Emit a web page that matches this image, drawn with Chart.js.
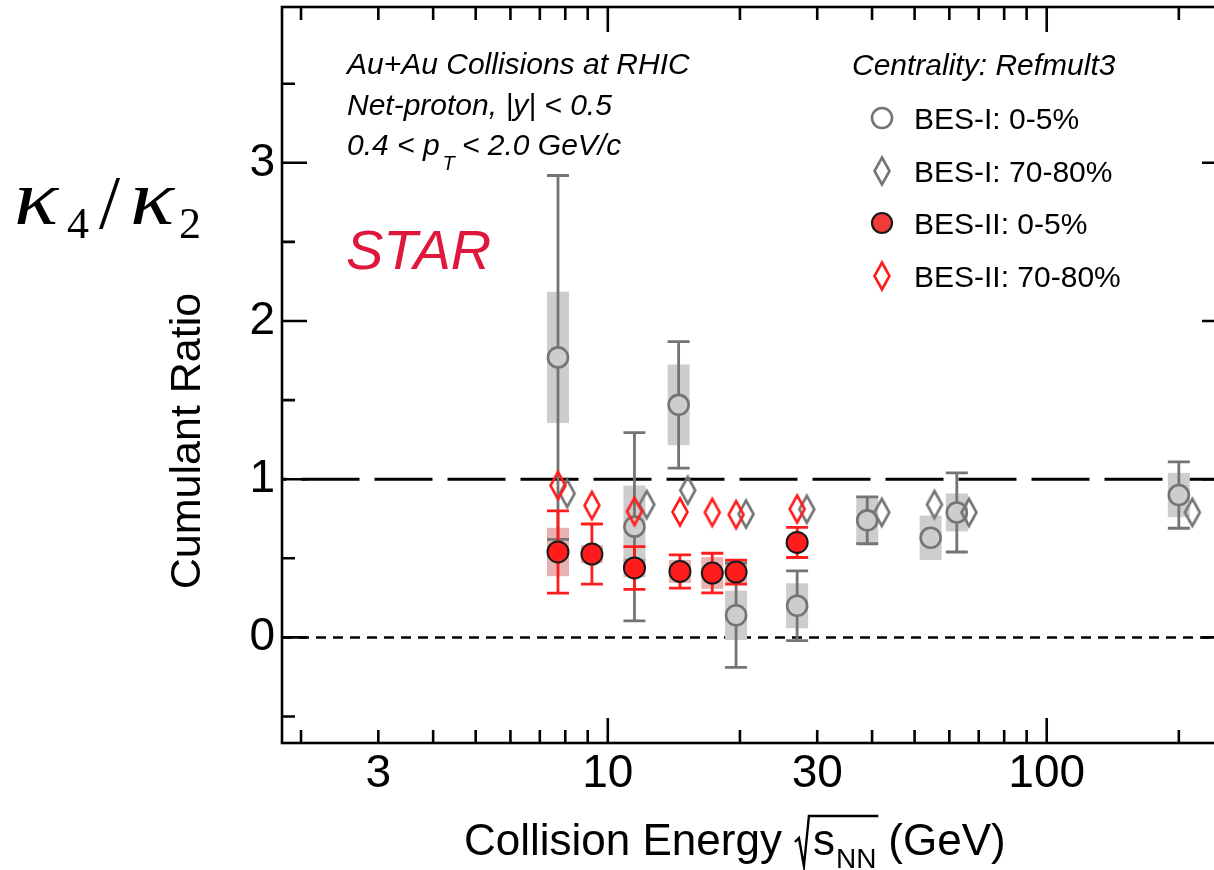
<!DOCTYPE html>
<html>
<head>
<meta charset="utf-8">
<script src="https://cdn.jsdelivr.net/npm/chart.js@4.4.0/dist/chart.umd.min.js"></script>
<style>
  html, body { margin: 0; padding: 0; background: #fff; overflow: hidden; }
  #wrap { width: 1214px; height: 870px; overflow: hidden; position: relative; }
  canvas { display: block; }
</style>
</head>
<body>
<div id="wrap"><canvas id="cumulantChart" width="1240" height="870"></canvas></div>
<script>
// BES-I, 0-5% (open gray circles)
const bes1Energy = [7.7, 11.5, 14.5, 19.6, 27, 39, 54.4, 62.4, 200];
const bes1Central = [1.77, 0.70, 1.47, 0.14, 0.20, 0.74, 0.63, 0.79, 0.90];
const bes1CentralStat = [1.15, 0.595, 0.40, 0.33, 0.22, 0.148, 0.04, 0.25, 0.21];
const bes1CentralSys = [0.415, 0.26, 0.255, 0.156, 0.142, 0.15, 0.14, 0.12, 0.14];

// BES-I, 70-80% (gray diamonds), drawn slightly to the right of the nominal energy
const bes1PeriphEnergy = [8.08, 12.27, 15.21, 20.65, 28.4, 42.1, 55.5, 66.5, 214.7];
const bes1Periph = [0.91, 0.84, 0.93, 0.78, 0.81, 0.79, 0.84, 0.79, 0.79];

// BES-II, 0-5% (filled red circles)
const bes2Energy = [7.7, 9.2, 11.5, 14.6, 17.3, 19.6, 27];
const bes2Central = [0.54, 0.527, 0.439, 0.417, 0.407, 0.413, 0.60];
const bes2CentralStat = [0.26, 0.19, 0.135, 0.105, 0.125, 0.076, 0.095];
const bes2CentralSys = [0.153, 0.057, 0.058, 0.073, 0.10, 0.07, 0.03];

// BES-II, 70-80% (red diamonds)
const bes2Periph = [0.96, 0.834, 0.796, 0.793, 0.79, 0.776, 0.812];

// axis ticks
const xTickLabels = [3, 10, 30, 100];
const xMajorTicks = [10, 100];
const xMinorTicks = [2, 3, 4, 5, 6, 7, 8, 9, 20, 30, 40, 50, 60, 70, 80, 90, 200];
const yTickLabels = [0, 1, 2, 3];
const yMinorTicks = [-0.5, 0.5, 1.5, 2.5, 3.5];

const legendLabels = ['BES-I: 0-5%', 'BES-I: 70-80%', 'BES-II: 0-5%', 'BES-II: 70-80%'];

const FONT = "'Liberation Sans', Arial, Helvetica, sans-serif";
const SERIF = "'Liberation Serif', 'DejaVu Serif', serif";
const GRAY = '#747474';
const GRAY_BOX = '#cdcdcd';
const RED = '#ff1c1c';

function diamondImage(color) {
    const c = document.createElement('canvas');
    c.width = 22;
    c.height = 34;
    const g = c.getContext('2d');
    g.strokeStyle = color;
    g.lineWidth = 2.6;
    g.beginPath();
    g.moveTo(11, 3.5);
    g.lineTo(18.5, 17);
    g.lineTo(11, 30.5);
    g.lineTo(3.5, 17);
    g.closePath();
    g.stroke();
    return c;
}

const grayDiamond = diamondImage(GRAY);
const redDiamond = diamondImage(RED);

function drawHLine(ctx, area, yPix, dash, offset, width) {
    ctx.save();
    ctx.strokeStyle = '#000';
    ctx.lineWidth = width;
    ctx.setLineDash(dash);
    ctx.lineDashOffset = offset;
    ctx.beginPath();
    ctx.moveTo(area.left, yPix);
    ctx.lineTo(area.right, yPix);
    ctx.stroke();
    ctx.restore();
}

function drawBox(ctx, xPix, yTop, yBot, color) {
    ctx.fillStyle = color;
    ctx.fillRect(xPix - 11, yTop, 22, yBot - yTop);
}

function drawErrorBar(ctx, xPix, yc, yTop, yBot, r, color) {
    ctx.strokeStyle = color;
    ctx.lineWidth = 2.8;
    ctx.beginPath();
    if (yc - yTop > r) {
        ctx.moveTo(xPix, yc - r); ctx.lineTo(xPix, yTop);
        ctx.moveTo(xPix - 11, yTop); ctx.lineTo(xPix + 11, yTop);
    }
    if (yBot - yc > r) {
        ctx.moveTo(xPix, yc + r); ctx.lineTo(xPix, yBot);
        ctx.moveTo(xPix - 11, yBot); ctx.lineTo(xPix + 11, yBot);
    }
    ctx.stroke();
}

// draw a wide italic kappa like the Cambria Math glyph
function drawKappa(ctx, xPos, yPos) {
    ctx.save();
    ctx.translate(xPos, yPos);
    ctx.scale(1.18, 1);
    ctx.fillText('\u03BA', 0, 0);
    ctx.restore();
}

const decorPlugin = {
    id: 'decor',
    beforeDatasetsDraw(chart) {
        const { ctx, chartArea: a, scales: { x, y } } = chart;
        ctx.save();
        // reference lines at 1 and 0
        drawHLine(ctx, a, y.getPixelForValue(1), [58, 15], 53.5, 3);
        drawHLine(ctx, a, y.getPixelForValue(0), [10, 7], 0, 2.5);

        // systematic uncertainties
        bes1Energy.forEach((e, i) => {
            drawBox(ctx, x.getPixelForValue(e),
                y.getPixelForValue(bes1Central[i] + bes1CentralSys[i]),
                y.getPixelForValue(bes1Central[i] - bes1CentralSys[i]), GRAY_BOX);
        });
        bes2Energy.forEach((e, i) => {
            drawBox(ctx, x.getPixelForValue(e),
                y.getPixelForValue(bes2Central[i] + bes2CentralSys[i]),
                y.getPixelForValue(bes2Central[i] - bes2CentralSys[i]), 'rgba(200, 50, 50, 0.38)');
        });

        // statistical uncertainties
        bes1Energy.forEach((e, i) => {
            drawErrorBar(ctx, x.getPixelForValue(e),
                y.getPixelForValue(bes1Central[i]),
                y.getPixelForValue(bes1Central[i] + bes1CentralStat[i]),
                y.getPixelForValue(bes1Central[i] - bes1CentralStat[i]), 10, GRAY);
        });
        bes2Energy.forEach((e, i) => {
            drawErrorBar(ctx, x.getPixelForValue(e),
                y.getPixelForValue(bes2Central[i]),
                y.getPixelForValue(bes2Central[i] + bes2CentralStat[i]),
                y.getPixelForValue(bes2Central[i] - bes2CentralStat[i]), 10, RED);
        });
        ctx.restore();
    },
    afterDatasetsDraw(chart) {
        const { ctx, chartArea: a, scales: { x, y } } = chart;
        ctx.save();

        // frame
        ctx.strokeStyle = '#000';
        ctx.lineWidth = 2.6;
        ctx.strokeRect(a.left, a.top, a.right - a.left, a.bottom - a.top);

        // inward tick marks on all four sides
        ctx.beginPath();
        const xTick = (v, len) => {
            const p = x.getPixelForValue(v);
            ctx.moveTo(p, a.bottom); ctx.lineTo(p, a.bottom - len);
            ctx.moveTo(p, a.top); ctx.lineTo(p, a.top + len);
        };
        const yTick = (v, len) => {
            const p = y.getPixelForValue(v);
            ctx.moveTo(a.left, p); ctx.lineTo(a.left + len, p);
            ctx.moveTo(a.right, p); ctx.lineTo(a.right - len, p);
        };
        xMajorTicks.forEach(v => xTick(v, 25));
        xMinorTicks.forEach(v => xTick(v, 13));
        yTickLabels.forEach(v => yTick(v, 25));
        yMinorTicks.forEach(v => yTick(v, 13));
        ctx.stroke();

        // annotations
        ctx.fillStyle = '#000';
        ctx.textBaseline = 'alphabetic';
        ctx.textAlign = 'left';
        ctx.font = `italic 30px ${FONT}`;
        ctx.fillText('Au+Au Collisions at RHIC', 347, 74);
        ctx.fillText('Net-proton, |y| < 0.5', 347, 115);
        ctx.fillText('0.4 < p', 347, 155);
        let w = ctx.measureText('0.4 < p').width;
        ctx.font = `italic 20px ${FONT}`;
        ctx.fillText('T', 347 + w + 3, 170);
        ctx.font = `italic 30px ${FONT}`;
        ctx.fillText(' < 2.0 GeV/c', 347 + w + 14, 155);
        ctx.fillText('Centrality: Refmult3', 852, 75);

        ctx.fillStyle = '#e0173c';
        ctx.font = `italic 56px ${FONT}`;
        ctx.fillText('STAR', 346, 269);

        // legend
        const legendY = [118, 171, 223, 276];
        ctx.font = `30px ${FONT}`;
        ctx.fillStyle = '#000';
        legendLabels.forEach((t, i) => ctx.fillText(t, 914, legendY[i] + 11));
        ctx.lineWidth = 2.6;
        ctx.beginPath();
        ctx.arc(882, legendY[0], 10, 0, Math.PI * 2);
        ctx.fillStyle = '#fff';
        ctx.fill();
        ctx.strokeStyle = GRAY;
        ctx.stroke();
        ctx.drawImage(grayDiamond, 882 - 11, legendY[1] - 17);
        ctx.beginPath();
        ctx.arc(882, legendY[2], 10, 0, Math.PI * 2);
        ctx.fillStyle = '#f23a3a';
        ctx.fill();
        ctx.strokeStyle = '#1a1a1a';
        ctx.lineWidth = 2.2;
        ctx.stroke();
        ctx.drawImage(redDiamond, 882 - 11, legendY[3] - 17);

        // axis titles
        ctx.fillStyle = '#000';
        ctx.font = `44px ${FONT}`;
        ctx.fillText('Collision Energy', 464, 855);
        const rx = 464 + ctx.measureText('Collision Energy').width + 13;
        const sW = ctx.measureText('s').width;
        ctx.fillText('s', rx + 18, 855);
        ctx.font = `28px ${FONT}`;
        ctx.fillText('NN', rx + 18 + sW + 1, 868);
        const nnW = ctx.measureText('NN').width;
        const rEnd = rx + 18 + sW + 1 + nnW + 2;
        ctx.strokeStyle = '#000';
        ctx.lineWidth = 2.4;
        ctx.beginPath();
        ctx.moveTo(rx, 842);
        ctx.lineTo(rx + 4, 838);
        ctx.lineTo(rx + 9, 866);
        ctx.lineTo(rx + 14, 816);
        ctx.lineTo(rEnd, 816);
        ctx.stroke();
        ctx.font = `44px ${FONT}`;
        ctx.fillText('(GeV)', rEnd + 10, 855);

        ctx.save();
        ctx.translate(200, 441);
        ctx.rotate(-Math.PI / 2);
        ctx.textAlign = 'center';
        ctx.font = `43px ${FONT}`;
        ctx.fillText('Cumulant Ratio', 0, 0);
        ctx.restore();

        // kappa4 / kappa2
        ctx.font = `italic 78px ${SERIF}`;
        drawKappa(ctx, 14, 224);
        drawKappa(ctx, 130, 224);
        ctx.font = `44px ${SERIF}`;
        ctx.fillText('4', 67, 238);
        ctx.fillText('2', 179, 238);
        ctx.font = `76px ${SERIF}`;
        ctx.fillText('/', 99, 228);

        ctx.restore();
    }
};

document.addEventListener('DOMContentLoaded', function () {
    const ctx = document.getElementById('cumulantChart').getContext('2d');
    const cumulantChart = new Chart(ctx, {
        type: 'scatter',
        data: {
            datasets: [{
                label: legendLabels[2],
                data: bes2Energy.map((e, i) => ({ x: e, y: bes2Central[i] })),
                pointStyle: 'circle',
                pointRadius: 10.5,
                backgroundColor: RED,
                borderColor: '#1a1a1a',
                borderWidth: 2,
                order: 1
            }, {
                label: legendLabels[3],
                data: bes2Energy.map((e, i) => ({ x: e, y: bes2Periph[i] })),
                pointStyle: redDiamond,
                order: 2
            }, {
                label: legendLabels[1],
                data: bes1PeriphEnergy.map((e, i) => ({ x: e, y: bes1Periph[i] })),
                pointStyle: grayDiamond,
                order: 3
            }, {
                label: legendLabels[0],
                data: bes1Energy.map((e, i) => ({ x: e, y: bes1Central[i] })),
                pointStyle: 'circle',
                pointRadius: 10,
                backgroundColor: GRAY_BOX,
                borderColor: GRAY,
                borderWidth: 2.6,
                order: 4
            }]
        },
        options: {
            responsive: false,
            animation: false,
            events: [],
            layout: { autoPadding: false, padding: { left: 0, top: 7, right: 13, bottom: 0 } },
            plugins: {
                legend: { display: false },
                tooltip: { enabled: false }
            },
            scales: {
                x: {
                    type: 'logarithmic',
                    min: 1.81,
                    max: 257.5,
                    grid: { display: false, drawTicks: false },
                    border: { display: false },
                    afterBuildTicks: scale => {
                        scale.ticks = xTickLabels.map(v => ({ value: v }));
                    },
                    afterFit: scale => {
                        scale.height = 127;
                        scale.paddingLeft = 0;
                        scale.paddingRight = 0;
                    },
                    ticks: {
                        autoSkip: false,
                        maxRotation: 0,
                        padding: 4,
                        color: '#000',
                        font: { family: FONT, size: 46 },
                        callback: v => String(v)
                    }
                },
                y: {
                    type: 'linear',
                    min: -0.6675,
                    max: 3.985,
                    grid: { display: false, drawTicks: false },
                    border: { display: false },
                    afterBuildTicks: scale => {
                        scale.ticks = yTickLabels.map(v => ({ value: v }));
                    },
                    afterFit: scale => {
                        scale.width = 282;
                        scale.paddingTop = 0;
                        scale.paddingBottom = 0;
                    },
                    ticks: {
                        padding: 7,
                        color: '#000',
                        font: { family: FONT, size: 46 },
                        callback: v => String(v)
                    }
                }
            }
        },
        plugins: [decorPlugin]
    });
});
</script>
</body>
</html>
